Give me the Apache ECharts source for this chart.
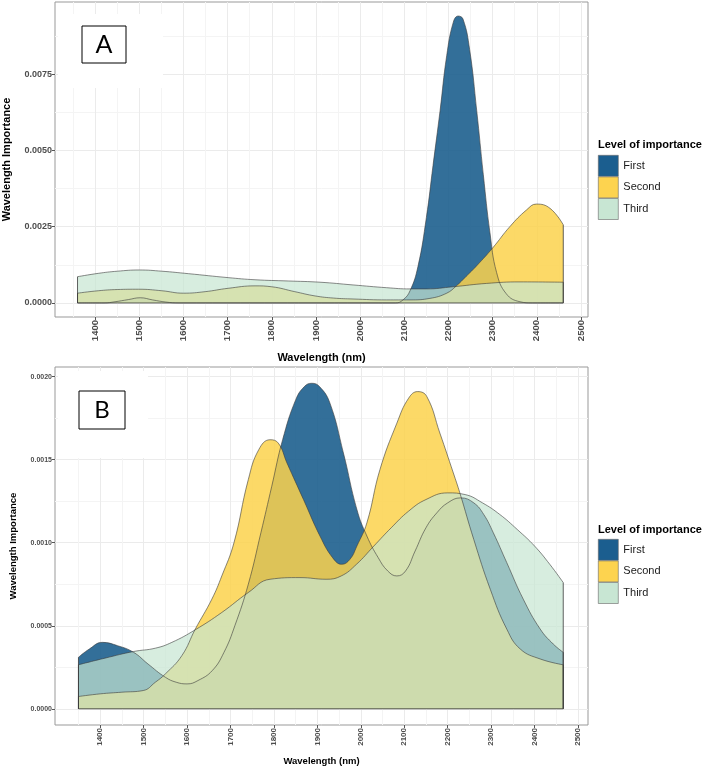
<!DOCTYPE html>
<html><head><meta charset="utf-8">
<script src="https://cdn.jsdelivr.net/npm/echarts@6/dist/echarts.min.js"></script>
<style>html,body{margin:0;padding:0;background:#fff}#c{width:702px;height:769px}</style>
</head><body><div id="c"></div>
<script>
// ---------- data ----------
const seriesNames = ['First', 'Second', 'Third'];
const xTicks = [1400, 1500, 1600, 1700, 1800, 1900, 2000, 2100, 2200, 2300, 2400, 2500];
const xMinor = [1350, 1450, 1550, 1650, 1750, 1850, 1950, 2050, 2150, 2250, 2350, 2450];
const yTicksA = [0, 0.0025, 0.005, 0.0075];
const yMinorA = [0.00125, 0.00375, 0.00625, 0.00875];
const yTicksB = [0, 0.0005, 0.001, 0.0015, 0.002];
const yMinorB = [0.00025, 0.00075, 0.00125, 0.00175];

// Panel A (wavelength nm, importance)
const aFirst = [[1360,0],[1420,0],[1445,0.00004],[1475,0.00011],[1502,0.00017],[1530,0.0001],[1560,0.00003],[1590,0],[2080,0],[2097,0.0001],[2113,0.0004],[2131,0.0012],[2150,0.0028],[2165,0.0045],[2181,0.0063],[2196,0.0081],[2211,0.0092],[2222,0.0094],[2233,0.0093],[2248,0.0083],[2264,0.0063],[2279,0.0042],[2294,0.0023],[2309,0.001],[2331,0.0003],[2362,0.00004],[2390,0],[2460,0]];
const aSecond = [[1360,0.00032],[1407,0.0004],[1450,0.00044],[1498,0.00045],[1551,0.0004],[1600,0.00032],[1649,0.00037],[1701,0.00048],[1762,0.00056],[1800,0.00053],[1852,0.00037],[1898,0.00023],[1940,0.00016],[1984,0.00013],[2060,0.0001],[2113,0.0001],[2158,0.00015],[2196,0.00032],[2218,0.00056],[2240,0.00087],[2264,0.00122],[2300,0.0018],[2339,0.0025],[2377,0.00305],[2399,0.00324],[2430,0.0031],[2460,0.00256]];
const aThird = [[1360,0.00086],[1407,0.00097],[1450,0.00104],[1500,0.00108],[1551,0.00104],[1611,0.00096],[1701,0.00083],[1762,0.00076],[1837,0.00072],[1909,0.00068],[1984,0.00059],[2060,0.0005],[2113,0.00046],[2150,0.00046],[2210,0.00053],[2286,0.00064],[2362,0.00069],[2460,0.00068]];

// Panel B
const bFirst = [[1350,0.00031],[1375,0.00036],[1405,0.0004],[1440,0.00038],[1477,0.00034],[1510,0.00027],[1550,0.00019],[1575,0.00016],[1600,0.00015],[1625,0.00017],[1658,0.00023],[1685,0.00034],[1710,0.0005],[1741,0.00075],[1770,0.00106],[1795,0.00134],[1820,0.00162],[1850,0.00186],[1870,0.00194],[1887,0.00196],[1905,0.00194],[1929,0.00184],[1960,0.00154],[1991,0.0012],[2014,0.00104],[2040,0.00091],[2062,0.00083],[2083,0.0008],[2103,0.00083],[2125,0.00095],[2150,0.00109],[2175,0.00118],[2200,0.00124],[2230,0.00127],[2260,0.00124],[2283,0.00117],[2305,0.00106],[2336,0.00088],[2374,0.00066],[2413,0.00048],[2443,0.00039],[2466,0.00034]];
const bSecond = [[1350,0.000074],[1400,0.00009],[1450,0.0001],[1499,0.00011],[1527,0.00016],[1550,0.00021],[1588,0.00032],[1619,0.00048],[1657,0.00066],[1680,0.0008],[1708,0.001],[1741,0.00138],[1765,0.00156],[1791,0.00162],[1810,0.0016],[1830,0.00148],[1868,0.00126],[1906,0.00104],[1935,0.00091],[1956,0.00087],[1975,0.0009],[1991,0.00098],[2014,0.00112],[2044,0.00144],[2083,0.00172],[2110,0.00187],[2131,0.00191],[2152,0.00188],[2182,0.00166],[2213,0.00142],[2228,0.0013],[2260,0.00102],[2298,0.00072],[2336,0.00048],[2367,0.00036],[2413,0.0003],[2466,0.000265]];
const bThird = [[1350,0.000265],[1411,0.000305],[1477,0.000345],[1527,0.000365],[1565,0.0004],[1619,0.000476],[1680,0.00058],[1741,0.0007],[1791,0.00078],[1860,0.00079],[1920,0.00078],[1955,0.0008],[1990,0.00087],[2030,0.00098],[2070,0.00109],[2110,0.00119],[2150,0.00126],[2200,0.0013],[2240,0.00129],[2280,0.00124],[2320,0.00117],[2360,0.00108],[2400,0.00098],[2435,0.00087],[2466,0.00076]];

// ---------- styling ----------
const fillColors = ['#1d5f8e', '#fcd24c', '#c6e5d1'];
const fillOpacity = [0.9, 0.85, 0.7];
const legendColors = ['#1b5e8f', '#fdd34f', '#c8e6d3'];
const FONT = '"Liberation Sans", Arial, Helvetica, sans-serif';
const OUTLINE = '#3a3a3a';

const chart = echarts.init(document.getElementById('c'), null, {renderer: 'canvas'});

function mainX(gi, min, max, fs, titleFs, gap) {
  return {
    type: 'value', gridIndex: gi, min: min, max: max, position: 'bottom',
    axisLine: {show: false, onZero: false},
    axisTick: {show: true, length: 3, lineStyle: {color: '#555', width: 1}, customValues: xTicks},
    axisLabel: {customValues: xTicks, rotate: 90, fontSize: fs, fontWeight: 'bold', color: '#4d4d4d', margin: 3, fontFamily: FONT,
      formatter: v => String(v)},
    splitLine: {show: true, lineStyle: {color: '#ebebeb', width: 1}},
    name: 'Wavelength (nm)', nameLocation: 'middle', nameGap: gap,
    nameTextStyle: {fontSize: titleFs, fontWeight: 'bold', color: '#000', fontFamily: FONT}
  };
}
function minorX(gi, min, max) {
  return {
    type: 'value', gridIndex: gi, min: min, max: max, position: 'top',
    axisLine: {show: false, onZero: false}, axisTick: {show: false, customValues: xMinor},
    axisLabel: {show: false},
    splitLine: {show: true, lineStyle: {color: '#f4f4f4', width: 1}}
  };
}
function mainY(gi, min, max, ticks, fs, titleFs, gap) {
  return {
    type: 'value', gridIndex: gi, min: min, max: max, position: 'left',
    axisLine: {show: false, onZero: false},
    axisTick: {show: true, length: 3, lineStyle: {color: '#555', width: 1}, customValues: ticks},
    axisLabel: {customValues: ticks, fontSize: fs, fontWeight: 'bold', color: '#4d4d4d', margin: 3, fontFamily: FONT,
      formatter: v => v.toFixed(4)},
    splitLine: {show: true, lineStyle: {color: '#ebebeb', width: 1}},
    name: 'Wavelength Importance', nameLocation: 'middle', nameGap: gap, nameRotate: 90,
    nameTextStyle: {fontSize: titleFs, fontWeight: 'bold', color: '#000', fontFamily: FONT}
  };
}
function minorY(gi, min, max, minor) {
  return {
    type: 'value', gridIndex: gi, min: min, max: max, position: 'right',
    axisLine: {show: false, onZero: false}, axisTick: {show: false, customValues: minor},
    axisLabel: {show: false},
    splitLine: {show: true, lineStyle: {color: '#f4f4f4', width: 1}}
  };
}

function areaSeries(name, idx, pts, xi, yi) {
  return {
    type: 'line', name: name, xAxisIndex: xi, yAxisIndex: yi,
    data: pts, smooth: 0.45, symbol: 'none',
    lineStyle: {color: OUTLINE, width: 0.6},
    itemStyle: {color: fillColors[idx]},
    areaStyle: {color: fillColors[idx], opacity: fillOpacity[idx]},
    emphasis: {disabled: true}, silent: true, z: 2
  };
}
// polygon outline: vertical end edges of each density + baseline
function edges(list, xi, yi) {
  const d = [];
  list.forEach(pts => {
    const f = pts[0], l = pts[pts.length - 1];
    d.push([f[0], 0], [f[0], f[1]], [f[0], '-'], [l[0], l[1]], [l[0], 0], [l[0], '-']);
  });
  const f0 = list[0][0][0], l0 = list[0][list[0].length - 1][0];
  d.push([f0, 0], [l0, 0]);
  return {
    type: 'line', name: 'outline', xAxisIndex: xi, yAxisIndex: yi, data: d,
    connectNulls: false, symbol: 'none', lineStyle: {color: OUTLINE, width: 0.8}, silent: true, z: 3
  };
}

function legendFor(top) {
  return {
    orient: 'vertical', left: 598, top: top, icon: 'rect', padding: 0,
    itemWidth: 20, itemHeight: 21, itemGap: 0, selectedMode: false,
    textStyle: {fontSize: 11, color: '#1a1a1a', fontFamily: FONT},
    data: seriesNames.map((n, i) => ({name: n, itemStyle: {color: legendColors[i], borderColor: '#666', borderWidth: 0.6}}))
  };
}

const option = {
  animation: false,
  backgroundColor: '#fff',
  grid: [
    {left: 55, top: 2, width: 533, height: 315, show: true, borderColor: '#999', borderWidth: 1, backgroundColor: '#fff', outerBoundsMode: 'none', containLabel: false},
    {left: 55, top: 367, width: 533, height: 358, show: true, borderColor: '#999', borderWidth: 1, backgroundColor: '#fff', outerBoundsMode: 'none', containLabel: false}
  ],
  xAxis: [
    mainX(0, 1309, 2516, 9.5, 11, 35),
    mainX(1, 1296, 2523, 8, 9.5, 31),
    minorX(0, 1309, 2516),
    minorX(1, 1296, 2523)
  ],
  yAxis: [
    mainY(0, -0.00046, 0.00986, yTicksA, 9, 11, 43),
    mainY(1, -0.0000975, 0.002058, yTicksB, 7, 9.5, 37),
    minorY(0, -0.00046, 0.00986, yMinorA),
    minorY(1, -0.0000975, 0.002058, yMinorB)
  ],
  legend: [legendFor(155), legendFor(539)],
  series: [
    areaSeries('First', 0, aFirst, 0, 0),
    areaSeries('Second', 1, aSecond, 0, 0),
    areaSeries('Third', 2, aThird, 0, 0),
    edges([aFirst, aSecond, aThird], 0, 0),
    areaSeries('First', 0, bFirst, 1, 1),
    areaSeries('Second', 1, bSecond, 1, 1),
    areaSeries('Third', 2, bThird, 1, 1),
    edges([bFirst, bSecond, bThird], 1, 1)
  ],
  graphic: [
    {type: 'rect', z: 1, shape: {x: 58, y: 14, width: 105, height: 74}, style: {fill: '#fff'}, silent: true},
    {type: 'rect', z: 5, shape: {x: 82, y: 26, width: 44, height: 37}, style: {fill: '#fff', stroke: '#000', lineWidth: 1}, silent: true},
    {type: 'text', z: 6, style: {x: 104, y: 45, text: 'A', fontSize: 25, fontFamily: 'Lato, "Open Sans", sans-serif', fill: '#000', align: 'center', verticalAlign: 'middle'}, silent: true},
    {type: 'rect', z: 1, shape: {x: 58, y: 371, width: 90, height: 87}, style: {fill: '#fff'}, silent: true},
    {type: 'rect', z: 5, shape: {x: 79, y: 391, width: 46, height: 38}, style: {fill: '#fff', stroke: '#000', lineWidth: 1}, silent: true},
    {type: 'text', z: 6, style: {x: 102, y: 410, text: 'B', fontSize: 24, fontFamily: 'Lato, "Open Sans", sans-serif', fill: '#000', align: 'center', verticalAlign: 'middle'}, silent: true},
    {type: 'text', z: 6, style: {x: 598, y: 145, text: 'Level of importance', fontSize: 11, fontWeight: 'bold', fontFamily: FONT, fill: '#000', align: 'left', verticalAlign: 'middle'}, silent: true},
    {type: 'text', z: 6, style: {x: 598, y: 530, text: 'Level of importance', fontSize: 11, fontWeight: 'bold', fontFamily: FONT, fill: '#000', align: 'left', verticalAlign: 'middle'}, silent: true}
  ]
};
chart.setOption(option);
</script>
</body></html>
